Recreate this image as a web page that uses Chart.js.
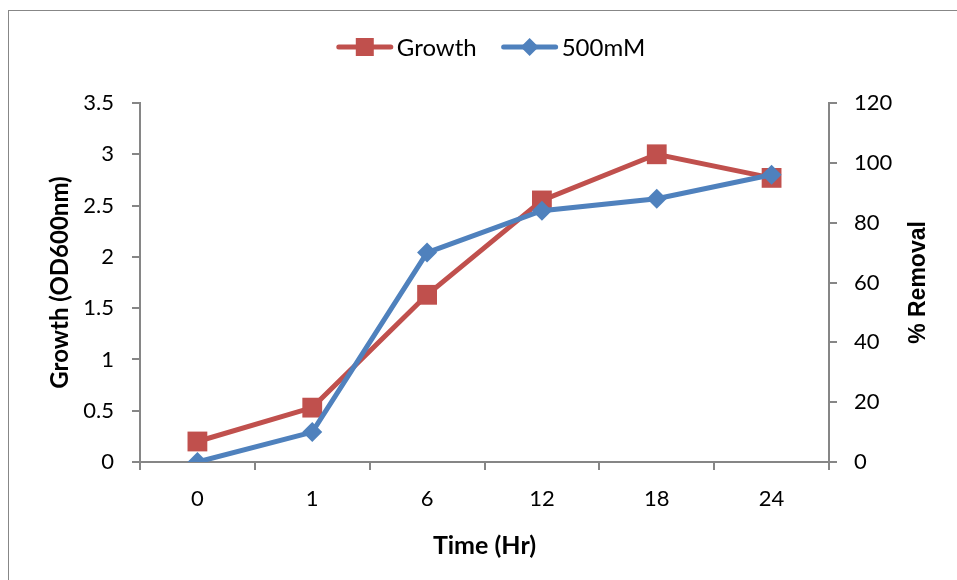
<!DOCTYPE html>
<html>
<head>
<meta charset="utf-8">
<script src="https://cdn.jsdelivr.net/npm/chart.js@4"></script>
<style>
  html, body { margin: 0; padding: 0; background: #fff; overflow: hidden; }
  #wrap { position: relative; width: 957px; height: 580px; }
  #frame { position: absolute; left: 8px; top: 10px; width: 2000px; height: 2000px; border: 1px solid #878787; }
  #chart { position: absolute; left: 0; top: 0; }
</style>
</head>
<body>
<div id="wrap">
  <div id="frame"></div>
  <canvas id="chart" width="957" height="580"></canvas>
</div>
<script>
// values
const labels = ["0", "1", "6", "12", "18", "24"];
const growth = [0.2, 0.53, 1.63, 2.55, 3.0, 2.77];
const removal = [0, 10, 70, 84, 88, 96];

const red = '#C0504D';
const blue = '#4F81BD';
const axisGray = '#868686';
const font = 'Lato, "Liberation Sans", sans-serif';

// Excel-style legend: a line with the marker on it, then the label
const lineLegend = {
  id: 'lineLegend',
  afterDraw(chart) {
    const ctx = chart.ctx;
    const y = 47;
    const lineW = 56;
    const gap = 25;
    ctx.save();
    ctx.font = '24px ' + font;
    const items = chart.data.datasets.map(ds => ({
      ds: ds,
      w: lineW + 4 + ctx.measureText(ds.label).width
    }));
    const total = items.reduce((s, it) => s + it.w, 0) + gap * (items.length - 1);
    let x = 491 - total / 2;
    items.forEach(it => {
      const ds = it.ds;
      ctx.strokeStyle = ds.borderColor;
      ctx.lineWidth = 5;
      ctx.lineCap = 'round';
      ctx.beginPath();
      ctx.moveTo(x + 2, y);
      ctx.lineTo(x + lineW - 2, y);
      ctx.stroke();
      ctx.fillStyle = ds.borderColor;
      const cx = x + lineW / 2;
      ctx.beginPath();
      if (ds.pointStyle === 'rect') {
        ctx.rect(cx - 9, y - 9, 18, 18);
      } else {
        ctx.moveTo(cx - 9, y);
        ctx.lineTo(cx, y - 9);
        ctx.lineTo(cx + 9, y);
        ctx.lineTo(cx, y + 9);
        ctx.closePath();
      }
      ctx.fill();
      ctx.fillStyle = '#000';
      ctx.textBaseline = 'middle';
      ctx.textAlign = 'left';
      ctx.fillText(ds.label, x + lineW + 4, y + 1);
      x += it.w + gap;
    });
    ctx.restore();
  }
};

// right axis title reads bottom-to-top like the left one
const rightTitle = {
  id: 'rightTitle',
  afterDraw(chart) {
    const ctx = chart.ctx;
    const area = chart.chartArea;
    ctx.save();
    ctx.translate(919, (area.top + area.bottom) / 2);
    ctx.rotate(-Math.PI / 2);
    ctx.font = 'bold 23px "Liberation Sans", Arial, sans-serif';
    ctx.fillStyle = '#000';
    ctx.textAlign = 'center';
    ctx.textBaseline = 'middle';
    ctx.fillText('% Removal', 0, 0);
    ctx.restore();
  }
};

const ctx = document.getElementById('chart').getContext('2d');
const chart = new Chart(ctx, {
  type: 'line',
  data: {
    labels: labels,
    datasets: [{
      label: 'Growth',
      data: growth,
      yAxisID: 'y',
      borderColor: red,
      backgroundColor: red,
      borderWidth: 5,
      pointStyle: 'rect',
      pointRadius: 14,
      pointBorderWidth: 0,
      pointBackgroundColor: red,
      tension: 0,
      order: 2
    }, {
      label: '500mM',
      data: removal,
      yAxisID: 'y1',
      borderColor: blue,
      backgroundColor: blue,
      borderWidth: 5,
      pointStyle: 'rectRot',
      pointRadius: 10,
      pointBorderWidth: 0,
      pointBackgroundColor: blue,
      tension: 0,
      order: 1
    }]
  },
  options: {
    responsive: false,
    animation: false,
    layout: { padding: { top: 103, left: 0, right: 0, bottom: 0 } },
    plugins: {
      legend: { display: false },
      tooltip: { enabled: false }
    },
    scales: {
      x: {
        type: 'category',
        offset: true,
        afterFit: s => { s.height = 118; },
        grid: { offset: true, drawOnChartArea: false, color: axisGray, lineWidth: 2, tickLength: 8 },
        border: { display: true, color: axisGray, width: 2 },
        ticks: { color: '#000', padding: 16, font: { family: font, size: 22 } },
        title: { display: true, text: 'Time (Hr)', color: '#000', padding: { top: 0, bottom: 19 }, font: { family: font, size: 25, weight: 'bold' } }
      },
      y: {
        position: 'left',
        min: 0,
        max: 3.5,
        afterFit: s => { s.width = 140; },
        grid: { drawOnChartArea: false, color: axisGray, lineWidth: 2, tickLength: 8 },
        border: { display: true, color: axisGray, width: 2 },
        ticks: { stepSize: 0.5, color: '#000', padding: 18, font: { family: font, size: 22 }, callback: v => v },
        title: { display: true, text: 'Growth (OD600nm)', color: '#000', padding: { top: 46, bottom: 0 }, font: { family: font, size: 24, weight: 'bold' } }
      },
      y1: {
        position: 'right',
        min: 0,
        max: 120,
        afterFit: s => { s.width = 128; },
        grid: { drawOnChartArea: false, color: axisGray, lineWidth: 2, tickLength: 8 },
        border: { display: true, color: axisGray, width: 2 },
        ticks: { stepSize: 20, color: '#000', padding: 17, font: { family: font, size: 22 } }
      }
    }
  },
  plugins: [lineLegend, rightTitle]
});
</script>
</body>
</html>
